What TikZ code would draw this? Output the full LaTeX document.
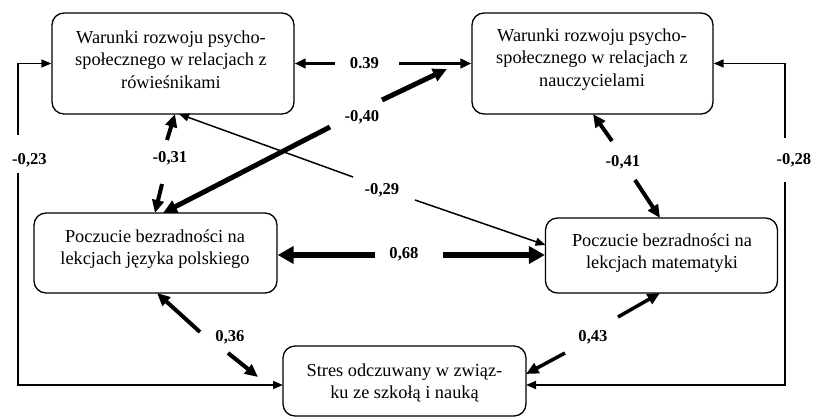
\documentclass[tikz,border=0pt]{standalone}
\usepackage{fontspec}
\setmainfont{Liberation Serif}
\usetikzlibrary{arrows.meta}
\tikzset{
  box/.style={draw, line width=1.3pt, rounded corners=12pt, inner sep=0pt},
  txt/.style={align=center, font=\fontsize{18.3}{22.3}\selectfont, inner sep=0pt},
  lab/.style={font=\bfseries\fontsize{16.6}{18}\selectfont, inner sep=0pt},
  arrA/.style={line width=1.5pt, -{Triangle[length=10pt,width=8pt]}},
  arrB/.style={line width=2.6pt, -{Triangle[length=11pt,width=9.5pt]}},
  arrC/.style={line width=4pt, -{Triangle[length=13pt,width=11.5pt]}},
  arrCc/.style={line width=3.5pt, -{Triangle[length=12.5pt,width=11pt]}},
  arrD/.style={line width=5pt, -{Triangle[length=14pt,width=13pt]}},
  arrE/.style={line width=6.5pt, -{Triangle[length=16pt,width=17pt]}},
}
\begin{document}
\begin{tikzpicture}[x=1pt,y=-1pt]
\useasboundingbox (0,0) rectangle (820,420);
% boxes
\node[box, minimum width=242pt, minimum height=101pt] (A) at (173,63.5) {};
\node[box, minimum width=241pt, minimum height=101pt] (B) at (592.5,63.5) {};
\node[box, minimum width=243pt, minimum height=80pt] (C) at (155.5,253) {};
\node[box, minimum width=232pt, minimum height=75pt] (D) at (661.5,255.5) {};
\node[box, minimum width=243pt, minimum height=70pt] (E) at (404.5,381) {};
% texts
\node[txt] (At) at (171,59.5) {Warunki rozwoju psycho-\\społecznego w relacjach z\\rówieśnikami};
\node[txt] (Bt) at (592,59.5) {Warunki rozwoju psycho-\\społecznego w relacjach z\\nauczycielami};
\node[txt] (Ct) at (155,249) {Poczucie bezradności na\\lekcjach języka polskiego};
\node[txt] (Dt) at (662,253) {Poczucie bezradności na\\lekcjach matematyki};
\node[txt] (Et) at (404.5,383) {Stres odczuwany w związ-\\ku ze szkołą i nauką};
% labels
\node[lab] (L39) at (364.5,63) {0.39};
\node[lab] (L40) at (362,117) {-0,40};
\node[lab] (L31) at (170,158) {-0,31};
\node[lab] (L29) at (382,190) {-0,29};
\node[lab] (L68) at (404,254) {0,68};
\node[lab] (L41) at (623,162) {-0,41};
\node[lab] (L36) at (230,337) {0,36};
\node[lab] (L43) at (593,337) {0,43};
\node[lab] (L23) at (29.5,160) {-0,23};
\node[lab] (L28) at (794,160) {-0,28};
% connector coordinates
\coordinate (g39a) at (335,63.5);
\coordinate (g39b) at (399,63.5);
\coordinate (g40a) at (330,127);
\coordinate (g40b) at (382,100);
\coordinate (c3) at (163,213);
\coordinate (b2) at (447,69);
\coordinate (g31a) at (167,140);
\coordinate (g31b) at (162,184);
\coordinate (a1) at (175,114);
\coordinate (c2) at (155,213);
\coordinate (g29a) at (353,177);
\coordinate (g29b) at (415,200);
\coordinate (a2) at (179,114);
\coordinate (d3) at (545.5,245);
\coordinate (g68a) at (375,255);
\coordinate (g68b) at (443,255);
\coordinate (g41a) at (612,141);
\coordinate (g41b) at (635,180);
\coordinate (b1) at (593,114);
\coordinate (d2) at (660,218);
\coordinate (g36a) at (200,332);
\coordinate (g36b) at (228,353);
\coordinate (c1) at (157,293);
\coordinate (e3) at (258,377);
\coordinate (g43a) at (618,317);
\coordinate (g43b) at (565,353);
\coordinate (d1) at (660,293);
\coordinate (e4) at (526,374);
\coordinate (g23a) at (18,135);
\coordinate (g23b) at (18,173);
\coordinate (e1) at (283,385);
\coordinate (g28a) at (785,138);
\coordinate (g28b) at (785,182);
\coordinate (e2) at (526,385);
% connectors
\draw[arrB] (g39a) -- (A.east);
\draw[arrB] (g39b) -- (B.west);
\draw[arrD] (g40a) -- (c3);
\draw[arrD] (g40b) -- (b2);
\draw[arrC] (g31a) -- (a1);
\draw[arrC] (g31b) -- (c2);
\draw[arrA] (g29a) -- (a2);
\draw[arrA] (g29b) -- (d3);
\draw[arrE] (g68a) -- (C.east |- g68a);
\draw[arrE] (g68b) -- (D.west |- g68b);
\draw[arrC] (g41a) -- (b1);
\draw[arrC] (g41b) -- (d2);
\draw[arrC] (g36a) -- (c1);
\draw[arrC] (g36b) -- (e3);
\draw[arrCc] (g43a) -- (d1);
\draw[arrCc] (g43b) -- (e4);
\draw[arrA] (g23a) |- (A.west);
\draw[arrA] (g23b) |- (e1);
\draw[arrA] (g28a) |- (B.east);
\draw[arrA] (g28b) |- (e2);
\end{tikzpicture}
\end{document}
